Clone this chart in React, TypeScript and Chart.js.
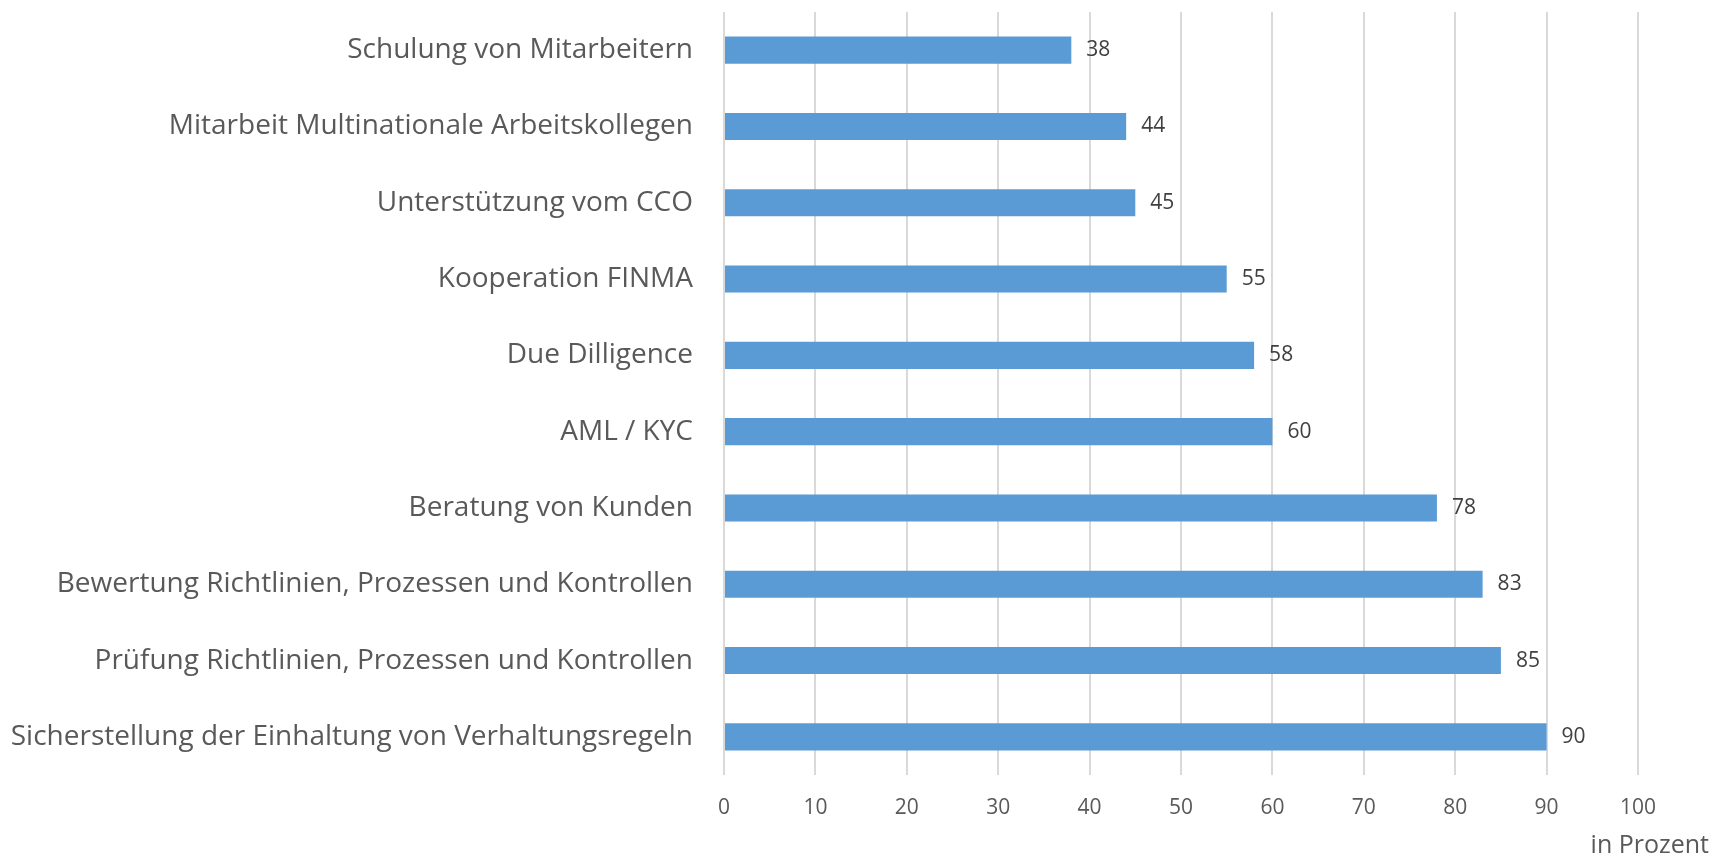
import React, { useEffect, useRef } from "react";
import { Chart, registerables } from "chart.js";

Chart.register(...registerables);

const categories: string[] = [
  "Schulung von Mitarbeitern",
  "Mitarbeit Multinationale Arbeitskollegen",
  "Unterstützung vom CCO",
  "Kooperation FINMA",
  "Due Dilligence",
  "AML / KYC",
  "Beratung von Kunden",
  "Bewertung Richtlinien, Prozessen und Kontrollen",
  "Prüfung Richtlinien, Prozessen und Kontrollen",
  "Sicherstellung der Einhaltung von Verhaltungsregeln",
];

const values: number[] = [38, 44, 45, 55, 58, 60, 78, 83, 85, 90];

const axisTitle = "in Prozent";
const FONT = "'Open Sans', 'Noto Sans', sans-serif";

export default function App() {
  const ref = useRef<HTMLCanvasElement | null>(null);

  useEffect(() => {
    if (!ref.current) return;
    const valueLabels = {
      id: "valueLabels",
      afterDatasetsDraw(chart: any) {
        const ctx = chart.ctx;
        const meta = chart.getDatasetMeta(0);
        ctx.save();
        ctx.font = `21px ${FONT}`;
        ctx.fillStyle = "#404040";
        ctx.textAlign = "left";
        ctx.textBaseline = "middle";
        meta.data.forEach((bar: any, i: number) => {
          ctx.fillText(String(values[i]), bar.x + 15, bar.y);
        });
        ctx.restore();
      },
    };
    const unitTitle = {
      id: "unitTitle",
      afterDraw(chart: any) {
        const ctx = chart.ctx;
        ctx.save();
        ctx.font = `25px ${FONT}`;
        ctx.fillStyle = "#595959";
        ctx.textAlign = "right";
        ctx.textBaseline = "middle";
        ctx.fillText(axisTitle, chart.width - 3, chart.height - 11);
        ctx.restore();
      },
    };
    const chart = new Chart(ref.current, {
      type: "bar",
      data: {
        labels: categories,
        datasets: [
          {
            data: values,
            backgroundColor: "#5b9bd5",
            borderWidth: 0,
            barPercentage: 0.355,
            categoryPercentage: 1,
          },
        ],
      },
      options: {
        indexAxis: "y",
        animation: false,
        responsive: false,
        maintainAspectRatio: false,
        layout: { padding: { left: 0, right: 74, top: 12, bottom: 0 } },
        plugins: {
          legend: { display: false },
          tooltip: { enabled: false },
        },
        scales: {
          x: {
            min: 0,
            max: 100,
            ticks: {
              stepSize: 10,
              color: "#595959",
              font: { family: FONT, size: 21 },
              padding: 20,
            },
            grid: { color: "#d9d9d9", lineWidth: 2, drawTicks: false },
            border: { display: false },
            afterFit(scale: any) {
              scale.height = 82;
              scale.paddingLeft = 0;
              scale.paddingRight = 0;
            },
          },
          y: {
            ticks: {
              color: "#595959",
              font: { family: FONT, size: 28 },
              padding: 31,
            },
            grid: { display: false, drawTicks: false },
            border: { display: false },
            afterFit(scale: any) {
              scale.width = 724;
              scale.paddingTop = 0;
              scale.paddingBottom = 0;
            },
          },
        },
      },
      plugins: [valueLabels, unitTitle],
    });
    return () => chart.destroy();
  }, []);

  return (
    <div style={{ position: "fixed", left: 0, top: 0, width: 1712, height: 857, background: "#fff" }}>
      <canvas ref={ref} width={1712} height={857} style={{ width: 1712, height: 857 }} />
    </div>
  );
}
